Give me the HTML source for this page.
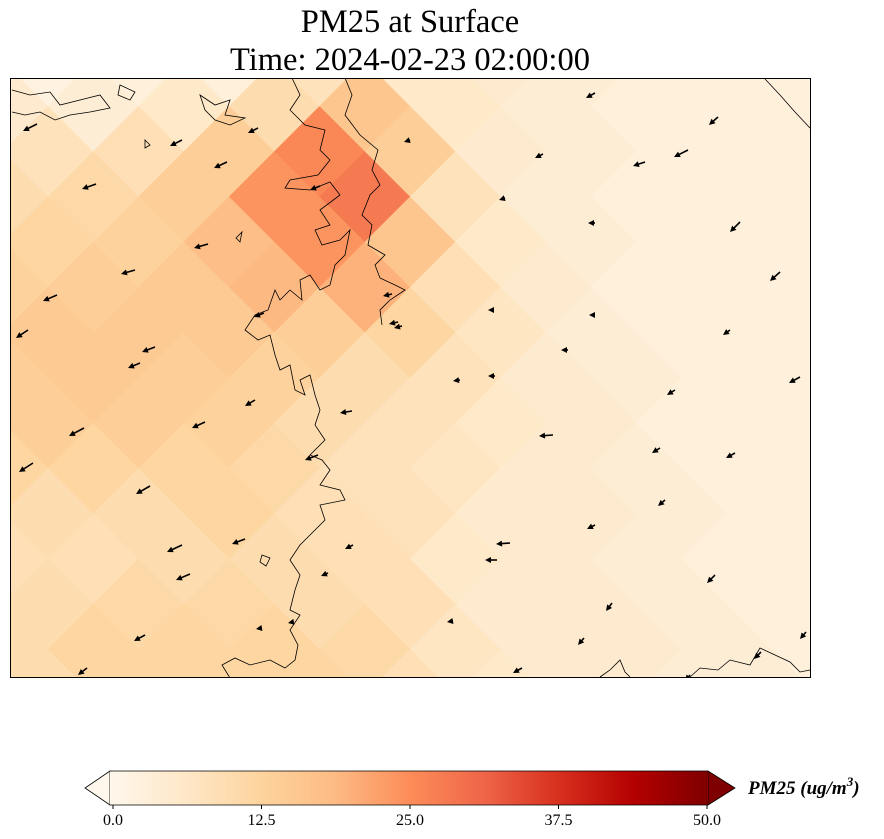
<!DOCTYPE html>
<html><head><meta charset="utf-8">
<style>
html,body{margin:0;padding:0;background:#fff;width:884px;height:839px;overflow:hidden;font-family:"Liberation Serif",serif;}
svg{display:block;}
</style></head>
<body>
<svg id="chart" width="884" height="839" xmlns="http://www.w3.org/2000/svg">
<defs>
<linearGradient id="cbgrad" x1="0" x2="1" y1="0" y2="0">
<stop offset="0" stop-color="#fff7ec"/><stop offset="0.125" stop-color="#fee8c8"/>
<stop offset="0.25" stop-color="#fdd49e"/><stop offset="0.375" stop-color="#fdbb84"/>
<stop offset="0.5" stop-color="#fc8d59"/><stop offset="0.625" stop-color="#ef6548"/>
<stop offset="0.75" stop-color="#d7301f"/><stop offset="0.875" stop-color="#b30000"/>
<stop offset="1" stop-color="#7f0000"/></linearGradient>
</defs>
<text x="410" y="32" font-size="32.5" text-anchor="middle">PM25 at Surface</text>
<text x="410" y="70" font-size="32.5" text-anchor="middle">Time: 2024-02-23 02:00:00</text>
<svg id="map" x="10" y="78" width="801" height="600" viewBox="10 78 801 600" overflow="hidden">
<rect x="10" y="78" width="801" height="600" fill="#fdebd3"/>
<g id="cells"></g>
<g id="coast" fill="none" stroke="#000" stroke-width="0.8">
<path d="M292,78 L300,95 L290,110 L305,125 L325,130 L320,150 L330,160 L318,175 L290,180 L285,188 L310,190 L330,182 L340,195 L320,210 L330,225 L315,230 L322,245 L340,240 L350,230 L345,255 L335,265 L330,285 L320,290 L310,275 L300,280 L302,300 L290,290 L280,300 L275,290 L268,310 L255,315 L245,330 L258,340 L270,335 L275,355 L280,370 L290,365 L295,390 L305,395 L300,380 L310,375 L315,395 L320,410 L315,425 L325,440 L310,455 L322,460 L330,470 L320,485 L340,490 L345,500 L320,505 L325,520 L315,530 L300,545 L290,560 L300,575 L295,590 L290,610 L300,615 L290,630 L298,645 L295,660 L285,668 L270,660 L250,665 L235,658 L222,665 L230,678"/>
<path d="M345,78 L352,95 L345,115 L360,135 L378,150 L372,170 L380,185 L370,195 L362,215 L372,225 L368,245 L385,255 L375,265 L380,278 L395,285 L405,290 L390,300 L380,310 L382,325"/>
<path d="M12,90 L30,95 L50,92 L60,105 L80,100 L100,95 L110,108 L90,112 L70,115 L55,120 L40,112 L25,115 L12,112"/>
<path d="M120,85 L135,92 L130,100 L118,95 Z M200,95 L215,105 L230,100 L225,115 L245,118 L230,125 L215,120 L205,110 Z M145,140 L150,145 L145,148 Z"/>
<path d="M690,677 L700,668 L718,670 L730,660 L750,665 L760,648 L775,655 L790,662 L800,672 L810,670"/>
<path d="M600,677 L610,670 L620,660 L625,672 L630,677"/>
<path d="M765,79 L780,95 L795,112 L810,128"/>
<path d="M262,555 L270,558 L266,566 L260,562 Z M236,238 L242,232 L240,242 Z"/>
</g>
<g id="arrows"></g>
</svg>
<rect x="10.5" y="78.5" width="800" height="599" fill="none" stroke="#000" stroke-width="1"/>
<g>
<polygon points="110,771 110,805 85,788" fill="#fff7ec" stroke="#000" stroke-width="0.8"/>
<polygon points="708,771 708,805 735,788" fill="#7f0000" stroke="#000" stroke-width="0.8"/>
<rect x="110" y="771" width="598" height="34" fill="url(#cbgrad)"/>
<path d="M110,771 L708,771 M110,805 L708,805" stroke="#000" stroke-width="0.8"/>
<g id="cbticks"></g>
<text x="748" y="794" font-size="19" font-weight="bold" font-style="italic">PM25 (ug/m<tspan dy="-8" font-size="13">3</tspan><tspan dy="8">)</tspan></text>
</g>
</svg>
<script>
// values in rotated grid (row j, column i)
const gridRows=[
[3,3,3,3,3,3,3,3,3,3,3,3,3,3,3,3],
[3,3,3,3,3,3,3,3,3,3,3,3,3,3,3,3],
[3,3,3,3,3,3,4,3,3,3,3,3,3,3,3,3],
[3,3,3,3,4,5,4,4,3,3,3,3,3,3,3,3],
[3,3,3,4,6,6,5,4,4,3,3,3,3,3,3,3],
[3,3,4,8,16,14,8,6,5,4,4,3,3,3,3,3],
[3,3,3,10,26,28,16,9,7,5,5,4,4,3,3,3],
[3,3,6,14,24,24,20,12,8,6,5,5,4,4,4,4],
[2,4,9,14,18,19,14,10,8,7,5,5,5,5,4,4],
[5,8,11,13,15,15,13,10,8,8,6,5,5,5,5,5],
[8,10,12,14,15,14,13,11,9,9,9,7,6,6,6,6],
[10,12,13,15,15,14,12,12,10,10,11,9,8,8,8,8],
[12,13,14,14,14,12,10,10,11,12,12,10,10,10,10,10],
[12,12,12,12,12,10,9,11,12,12,12,12,12,12,12,12],
[10,10,10,10,10,9,10,12,12,12,12,12,12,12,12,12],
[10,10,10,10,10,10,10,10,10,10,10,10,10,10,10,10]];
// wind vectors: base position and u,v components
const windX=[37,182,258,227,96,320,208,135,57,28,155,140,264,392,398,84,205,255,33,150,318,352,182,245,190,353,328,145,87,262,293,595,718,688,645,543,505,595,740,780,730,595,568,493,460,495,675,800,553,660,735,665,595,510,497,715,612,584,453,522,761,806,690,410,402];
const windY=[124,140,128,162,184,186,244,270,295,330,347,363,313,294,322,428,422,400,463,486,455,411,545,539,574,545,573,635,668,628,622,93,117,150,162,154,198,223,222,272,330,315,350,310,380,376,390,377,435,448,453,500,525,543,560,575,603,638,621,668,652,632,675,140,326];
const windU=[-14,-12,-10,-13,-14,-10,-14,-14,-14,-12,-13,-12,-10,-9,-9,-15,-13,-10,-14,-14,-13,-12,-15,-13,-14,-8,-7,-11,-9,-6,-5,-9,-9,-14,-12,-8,-6,-7,-10,-10,-7,-6,-7,-5,-7,-7,-8,-11,-14,-8,-9,-7,-8,-14,-12,-8,-6,-6,-6,-9,-7,-6,-5,-6,-8];
const windV=[7,6,5,6,5,4,4,4,6,8,5,5,4,2,2,8,6,6,9,8,5,2,7,5,6,4,3,6,7,1,1,5,8,7,4,4,2,0,10,9,5,0,0,0,1,0,5,6,1,5,5,6,4,1,0,8,8,7,1,5,7,7,6,2,2];
const cbTicks=[0,12.5,25,37.5,50];
const cbLabels=["0.0","12.5","25.0","37.5","50.0"];

const NS="http://www.w3.org/2000/svg";
const stops=["#fff7ec","#fee8c8","#fdd49e","#fdbb84","#fc8d59","#ef6548","#d7301f","#b30000","#7f0000"];
function hex(c){return [1,3,5].map(k=>parseInt(c.substr(k,2),16));}
function color(v){let t=Math.max(0,Math.min(1,v/50))*8;let k=Math.min(7,Math.floor(t));let f=t-k;
 const a=hex(stops[k]),b=hex(stops[k+1]);return "rgb("+a.map((x,n)=>Math.round(x+(b[n]-x)*f)).join(",")+")";}
const cx=410,cy=378,cs=64,h=cs/Math.SQRT2;
const cells=document.getElementById('cells');
gridRows.forEach((row,j)=>row.forEach((v,i)=>{
 // centre of rotated cell in screen coordinates
 const a=(i-7.5)*cs, b=(j-7.5)*cs;
 const px=cx+(a-b)/Math.SQRT2, py=cy+(a+b)/Math.SQRT2;
 if(px<10-h||px>811+h||py<78-h||py>678+h) return;
 const r=document.createElementNS(NS,'polygon');
 
 
 const d=h+0.4;
 r.setAttribute('points',px+','+(py-d)+' '+(px+d)+','+py+' '+px+','+(py+d)+' '+(px-d)+','+py);
 r.setAttribute('fill',color(v));
 cells.appendChild(r);
}));
const ar=document.getElementById('arrows');
windX.forEach((x,k)=>{
 const y=windY[k],u=windU[k],v=windV[k];
 const L=Math.hypot(u,v)||1, ux=u/L, uy=v/L;
 const tx=x+u,ty=y+v;
 const l=document.createElementNS(NS,'line');
 
 
 l.setAttribute('x1',x);l.setAttribute('y1',y);l.setAttribute('x2',tx-ux*3);l.setAttribute('y2',ty-uy*3);
 l.setAttribute('stroke','#000');l.setAttribute('stroke-width','1.6');
 ar.appendChild(l);
 const p=document.createElementNS(NS,'polygon');
 
 
 const bx=tx-ux*6,by=ty-uy*6;
 p.setAttribute('points',tx+','+ty+' '+(bx-uy*3)+','+(by+ux*3)+' '+(bx+uy*3)+','+(by-ux*3));
 ar.appendChild(p);
});
const tk=document.getElementById('cbticks');
cbTicks.forEach((t,k)=>{
 const x=113+(t/50)*594;
 const l=document.createElementNS(NS,'line');
 
 
 l.setAttribute('x1',x);l.setAttribute('x2',x);l.setAttribute('y1',805);l.setAttribute('y2',809);l.setAttribute('stroke','#000');
 tk.appendChild(l);
 const tx=document.createElementNS(NS,'text');
 
 
 tx.setAttribute('x',x);tx.setAttribute('y',825);tx.setAttribute('font-size','16');tx.setAttribute('text-anchor','middle');
 tx.textContent=cbLabels[k];
 tk.appendChild(tx);
});
</script>
</body></html>
